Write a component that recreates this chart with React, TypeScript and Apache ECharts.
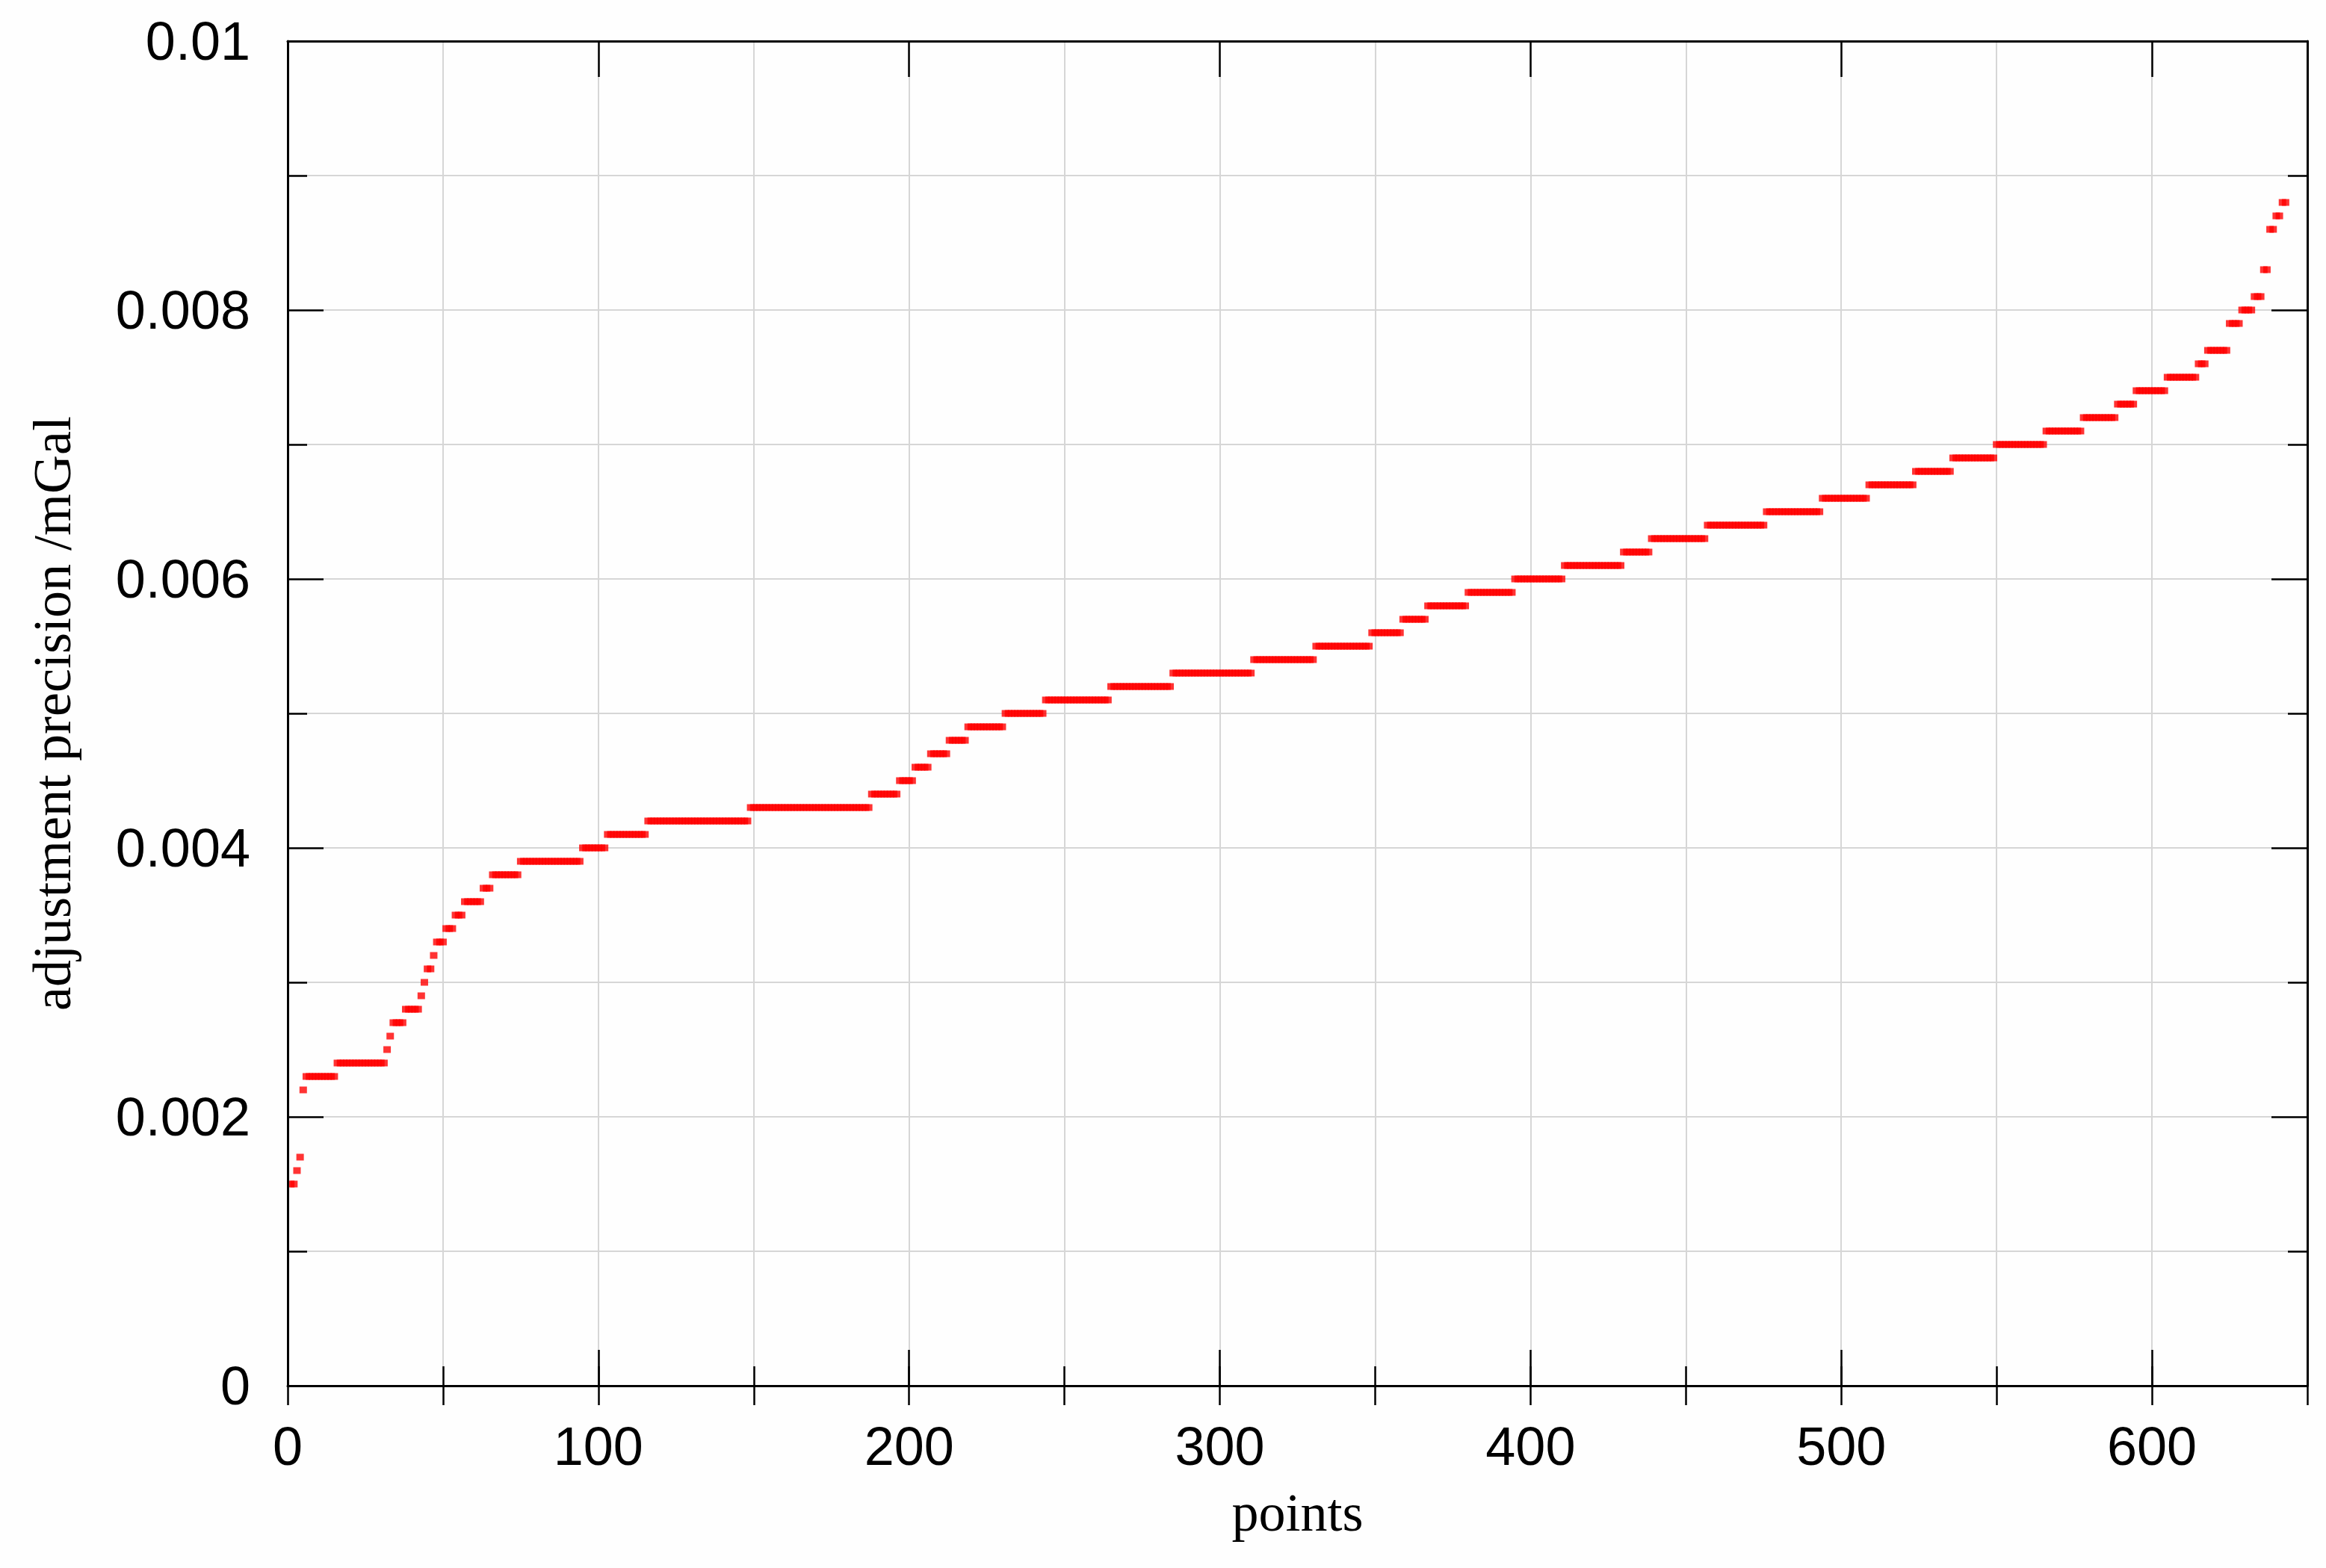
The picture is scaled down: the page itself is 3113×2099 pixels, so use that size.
import React, { useEffect, useRef } from "react";
import * as echarts from "echarts";

// Quantized precision levels (mGal) and how many sorted points sit on each level
const levels = [
  0.0015, 0.0016, 0.0017, 0.0022, 0.0023, 0.0024, 0.0025, 0.0026, 0.0027, 0.0028,
  0.0029, 0.003, 0.0031, 0.0032, 0.0033, 0.0034, 0.0035, 0.0036, 0.0037, 0.0038,
  0.0039, 0.004, 0.0041, 0.0042, 0.0043, 0.0044, 0.0045, 0.0046, 0.0047, 0.0048,
  0.0049, 0.005, 0.0051, 0.0052, 0.0053, 0.0054, 0.0055, 0.0056, 0.0057, 0.0058,
  0.0059, 0.006, 0.0061, 0.0062, 0.0063, 0.0064, 0.0065, 0.0066, 0.0067, 0.0068,
  0.0069, 0.007, 0.0071, 0.0072, 0.0073, 0.0074, 0.0075, 0.0076, 0.0077, 0.0079,
  0.008, 0.0081, 0.0083, 0.0086, 0.0087, 0.0088,
];
const counts = [
  2, 1, 1, 1, 10, 16, 1, 1, 4, 5,
  1, 1, 2, 1, 3, 3, 3, 6, 3, 9,
  20, 8, 13, 33, 39, 9, 5, 5, 6, 6,
  12, 13, 21, 20, 26, 20, 18, 10, 8, 13,
  15, 16, 19, 9, 18, 19, 18, 15, 15, 12,
  14, 16, 12, 11, 6, 10, 10, 3, 7, 4,
  4, 3, 2, 2, 2, 2,
];
const xTicks = [0, 100, 200, 300, 400, 500, 600];
const yTicks = [0, 0.002, 0.004, 0.006, 0.008, 0.01];

const xTitle = "points";
const yTitle = "adjustment precision /mGal";

function buildPoints(): [number, number][] {
  const pts: [number, number][] = [];
  let idx = 1;
  levels.forEach((lv, k) => {
    for (let j = 0; j < counts[k]; j++) {
      pts.push([idx, lv]);
      idx++;
    }
  });
  return pts;
}

const SANS = "Liberation Sans, Arial, sans-serif";
const SERIF = "Liberation Serif, Times New Roman, serif";

export default function App() {
  const ref = useRef<HTMLDivElement>(null);
  useEffect(() => {
    if (!ref.current) return;
    const chart = echarts.init(ref.current, null, { renderer: "svg" });
    const gridStyle = { color: "#d6d6d6", width: 2 };
    const tickStyle = { color: "#000", width: 2.5 };
    const axisLine = { show: true, onZero: false, lineStyle: { color: "#000", width: 3 } };
    const baseX = { type: "value", min: 0, max: 650 };
    const baseY = { type: "value", min: 0, max: 0.01, interval: 0.002 };
    const frame = { show: false };
    chart.setOption({
      animation: false,
      backgroundColor: "#fefefe",
      grid: { left: 385, right: 25, top: 55, bottom: 244, containLabel: false },
      xAxis: [
        {
          ...baseX,
          position: "bottom",
          interval: 100,
          axisLine,
          axisTick: { show: true, inside: true, length: 48, lineStyle: tickStyle },
          axisLabel: {
            show: true,
            margin: 45,
            fontSize: 72,
            fontFamily: SANS,
            color: "#000",
            showMaxLabel: false,
            formatter: (v: number) => (xTicks.includes(v) ? String(v) : ""),
          },
          splitLine: { show: false },
          name: xTitle,
          nameLocation: "middle",
          nameGap: 134,
          nameTextStyle: { fontSize: 72, fontFamily: SERIF, color: "#000" },
          z: 5,
        },
        {
          ...baseX,
          position: "bottom",
          interval: 50,
          axisLine: frame,
          axisTick: { show: true, inside: true, length: 26, lineStyle: tickStyle },
          axisLabel: { show: false },
          splitLine: { show: true, lineStyle: gridStyle },
          z: 0,
        },
        {
          ...baseX,
          position: "top",
          interval: 100,
          axisLine,
          axisTick: { show: true, inside: true, length: 48, lineStyle: tickStyle },
          axisLabel: { show: false },
          splitLine: { show: false },
          z: 5,
        },
        {
          ...baseX,
          position: "top",
          interval: 50,
          axisLine: frame,
          axisTick: { show: true, inside: true, length: 26, lineStyle: tickStyle },
          axisLabel: { show: false },
          splitLine: { show: false },
          z: 5,
        },
      ],
      yAxis: [
        {
          // gridlines only, under the marks
          ...baseY,
          position: "left",
          axisLine: frame,
          axisTick: { show: false },
          axisLabel: { show: false },
          splitLine: { show: true, lineStyle: gridStyle },
          minorTick: { show: false, splitNumber: 2 },
          minorSplitLine: { show: true, lineStyle: gridStyle },
          z: 0,
        },
        {
          ...baseY,
          position: "left",
          axisLine,
          axisTick: { show: true, inside: true, length: 48, lineStyle: tickStyle },
          minorTick: { show: true, splitNumber: 2, length: 26, lineStyle: tickStyle },
          axisLabel: {
            show: true,
            margin: 50,
            fontSize: 72,
            fontFamily: SANS,
            color: "#000",
            formatter: (v: number) => {
              const hit = yTicks.find((t) => Math.abs(t - v) < 1e-9);
              return hit === undefined ? "" : String(hit);
            },
          },
          splitLine: { show: false },
          name: yTitle,
          nameLocation: "middle",
          nameGap: 279,
          nameTextStyle: { fontSize: 72, fontFamily: SERIF, color: "#000" },
          z: 5,
        },
        {
          ...baseY,
          position: "right",
          axisLine,
          axisTick: { show: true, inside: true, length: 48, lineStyle: tickStyle },
          minorTick: { show: true, splitNumber: 2, length: 26, lineStyle: tickStyle },
          axisLabel: { show: false },
          splitLine: { show: false },
          z: 5,
        },
      ],
      series: [
        {
          type: "scatter",
          xAxisIndex: 0,
          yAxisIndex: 0,
          symbol: "rect",
          symbolSize: [10, 9],
          itemStyle: { color: "#ff0000" },
          data: buildPoints(),
          z: 3,
        },
      ],
    });
    return () => chart.dispose();
  }, []);
  return (
    <div
      ref={ref}
      style={{ position: "absolute", left: 0, top: 0, width: 3113, height: 2099 }}
    />
  );
}
